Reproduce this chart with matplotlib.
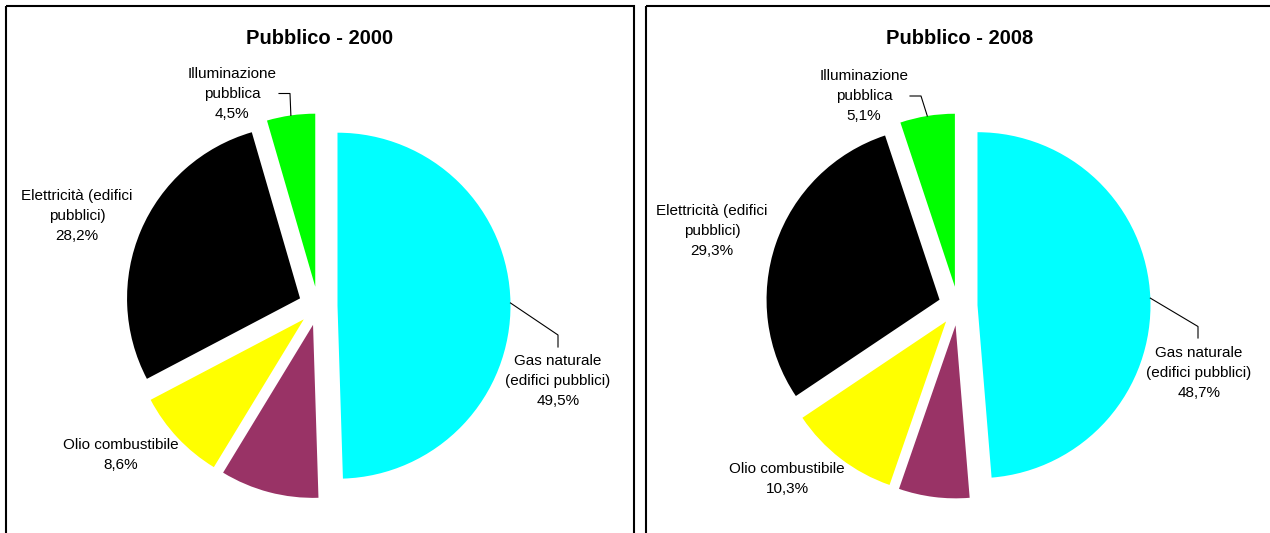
import numpy as np
import matplotlib
matplotlib.use("Agg")
import matplotlib.pyplot as plt
from matplotlib.patches import Rectangle

plt.rcParams['font.family'] = ['Liberation Sans', 'DejaVu Sans']

# ---------------- data ----------------
categories = ["Gas naturale\n(edifici pubblici)", None, "Olio combustibile",
              "Elettricità (edifici\npubblici)", "Illuminazione\npubblica"]
colors = ["#00FFFF", "#993366", "#FFFF00", "#000000", "#00FF00"]
values_2000 = [49.5, 9.2, 8.6, 28.2, 4.5]
values_2008 = [48.7, 6.6, 10.3, 29.3, 5.1]
titles = ["Pubblico - 2000", "Pubblico - 2008"]

# ---------------- layout (pixel coordinates) ----------------
W, H = 1270, 533
R = 173.0
EXPL = 19.5
panels = [
    dict(box=(6, 6, 628, 560), center=(318, 306), title_xy=(320, 38),
         values=values_2000,
         label_xy=[(558, 381), None, (121, 455), (77, 216), (232, 94)],
         elbows=[[(558, 335), (558, 347)], None, None, None, [(290, 93.5), (279, 93.5)]]),
    dict(box=(646, 6, 700, 560), center=(958, 306), title_xy=(960, 38),
         values=values_2008,
         label_xy=[(1199, 373), None, (787, 479), (712, 231), (864, 96)],
         elbows=[[(1198, 326.5), (1198, 338)], None, None, None, [(921, 96), (910, 96)]]),
]

fig = plt.figure(figsize=(W / 100, H / 100), dpi=100)
ax = fig.add_axes([0, 0, 1, 1])

for p, t in zip(panels, titles):
    x0, y0, w, h = p['box']
    ax.add_patch(Rectangle((x0, y0), w, h, fill=False, edgecolor='black',
                           linewidth=1.5, zorder=5))
    vals = p['values']
    cx, cy = p['center']
    ax.pie(vals, colors=colors, explode=[EXPL] * len(vals),
           startangle=-90, counterclock=True, center=(cx, cy), radius=R,
           wedgeprops=dict(linewidth=0))
    cum = 0.0
    for i, v in enumerate(vals):
        theta = np.deg2rad(-90 + 360 * (cum + v / 2) / sum(vals))
        cum += v
        if categories[i] is None:
            continue
        pct = f"{v:.1f}".replace('.', ',') + "%"
        lx, ly = p['label_xy'][i]
        ax.text(lx, ly, categories[i] + "\n" + pct, ha='center', va='center',
                fontsize=11, linespacing=1.55, color='black')
        if p['elbows'][i] is not None:
            sx = cx + (R + EXPL) * np.cos(theta)
            sy = cy + (R + EXPL) * np.sin(theta)
            pts = [(sx, sy)] + p['elbows'][i]
            ax.plot([q[0] for q in pts], [q[1] for q in pts], color='black',
                    linewidth=0.8)
    ax.text(*p['title_xy'], t, ha='center', va='center', fontsize=14.5,
            fontweight='bold')

ax.set_xlim(0, W)
ax.set_ylim(H, 0)
ax.set_aspect('equal')
ax.axis('off')
fig.savefig("out.png", dpi=100)
